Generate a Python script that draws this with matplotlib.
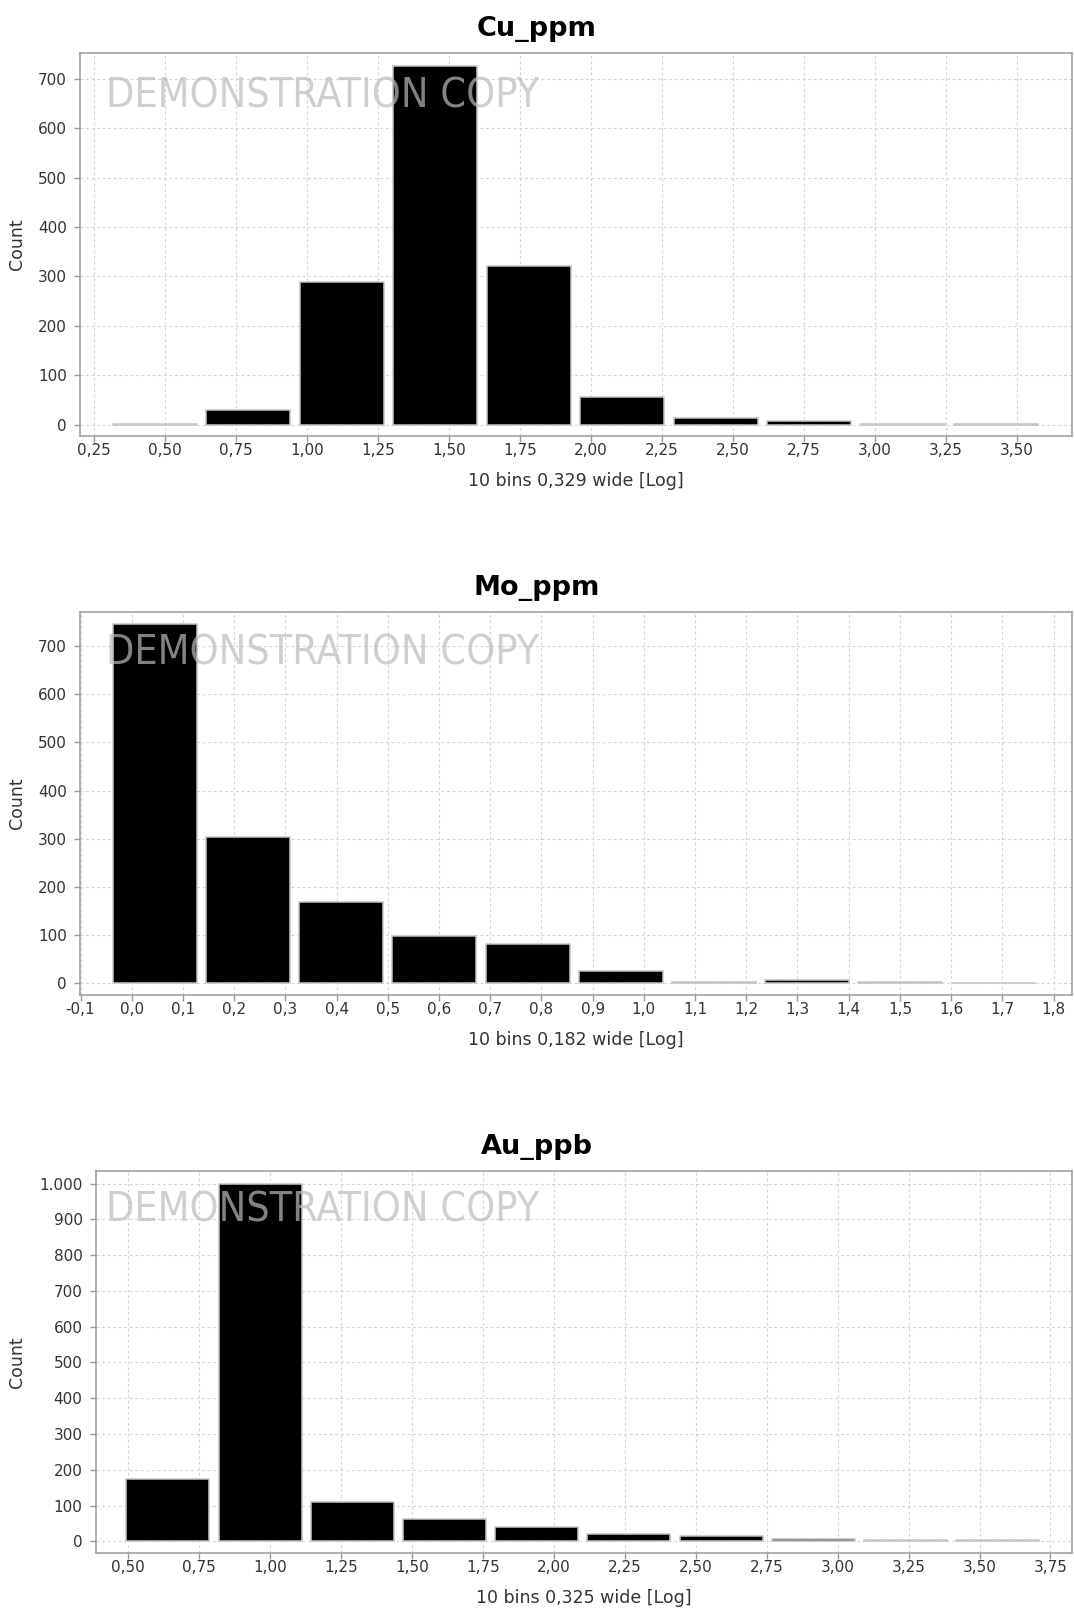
import numpy as np
import matplotlib
matplotlib.use("Agg")
import matplotlib.pyplot as plt
from matplotlib.ticker import FixedLocator, FuncFormatter

# Histogram data (log10 of assay values), 10 bins each
cu_title = "Cu_ppm"
cu_start, cu_width = 0.301, 0.329
cu_counts = [1, 30, 288, 726, 321, 57, 13, 7, 2, 1]
cu_xticks = [0.25, 0.50, 0.75, 1.00, 1.25, 1.50, 1.75, 2.00, 2.25, 2.50, 2.75, 3.00, 3.25, 3.50]

mo_title = "Mo_ppm"
mo_start, mo_width = -0.046, 0.182
mo_counts = [745, 304, 169, 99, 82, 26, 2, 7, 3, 1]
mo_xticks = [-0.1, 0.0, 0.1, 0.2, 0.3, 0.4, 0.5, 0.6, 0.7, 0.8, 0.9, 1.0, 1.1, 1.2, 1.3, 1.4, 1.5, 1.6, 1.7, 1.8]

au_title = "Au_ppb"
au_start, au_width = 0.477, 0.325
au_counts = [175, 998, 110, 64, 40, 20, 16, 7, 3, 3]
au_xticks = [0.50, 0.75, 1.00, 1.25, 1.50, 1.75, 2.00, 2.25, 2.50, 2.75, 3.00, 3.25, 3.50, 3.75]

W, H = 1074, 1612
fig = plt.figure(figsize=(W / 100, H / 100), dpi=100)
fig.patch.set_facecolor("white")


def fmt_num(decimals):
    def f(v, pos):
        s = f"{v:,.{decimals}f}"
        return s.replace(",", "X").replace(".", ",").replace("X", ".")
    return FuncFormatter(f)


def panel(box, title, start, width, counts, xticks, xdec, xlim, ylim, yticks, wm_baseline):
    left, top, right, bottom = box
    ax = fig.add_axes([left / W, 1 - bottom / H, (right - left) / W, (bottom - top) / H])
    n = len(counts)
    centers = start + width * (np.arange(n) + 0.5)
    ax.bar(centers, counts, width=width * 0.9, color="black",
           edgecolor="#c4c4c4", linewidth=1.1, zorder=3)
    ax.set_xlim(*xlim)
    ax.set_ylim(*ylim)
    ax.xaxis.set_major_locator(FixedLocator(xticks))
    ax.yaxis.set_major_locator(FixedLocator(yticks))
    ax.xaxis.set_major_formatter(fmt_num(xdec))
    ax.yaxis.set_major_formatter(fmt_num(0))
    ax.grid(True, color="#d4d4d4", linestyle=(0, (2.5, 2.5)), linewidth=0.8, zorder=0)
    ax.set_axisbelow(True)
    for s in ax.spines.values():
        s.set_color("#9a9a9a")
        s.set_linewidth(1.1)
    ax.tick_params(axis="both", direction="out", length=4, width=1, color="#9a9a9a",
                   labelsize=11, labelcolor="#333333")
    ax.tick_params(axis="x", pad=1)
    ax.tick_params(axis="y", pad=5.5)
    # chart title is centred on the whole figure width
    ax.set_title(title, fontsize=19.5, fontweight="bold", pad=12.2, color="black",
                 x=(W / 2 - left) / (right - left))
    ax.set_ylabel("Count", fontsize=12.5, color="#333333")
    ax.set_xlabel(f"10 bins {width:.3f}".replace(".", ",") + " wide [Log]",
                  fontsize=12.5, color="#333333", labelpad=10)
    ax.yaxis.set_label_coords(-(left - 26) / (right - left), 0.5)
    fig.text(106 / W, 1 - wm_baseline / H, "DEMONSTRATION COPY", fontsize=29.5,
             fontstretch="condensed", color="#bbbbbb", alpha=0.7,
             va="baseline", ha="left", zorder=10)
    return ax


panel((80, 53.3, 1072, 435.7), cu_title, cu_start, cu_width, cu_counts, cu_xticks, 2,
      (0.2018, 3.6935), (-22.3, 751.3), range(0, 701, 100), 107)
panel((80, 612.3, 1072, 995), mo_title, mo_start, mo_width, mo_counts, mo_xticks, 1,
      (-0.101, 1.836), (-24.2, 769.8), range(0, 701, 100), 665)
panel((95.7, 1171, 1072, 1552.7), au_title, au_start, au_width, au_counts, au_xticks, 2,
      (0.385, 3.826), (-31.5, 1035), range(0, 1001, 100), 1222)

fig.savefig("out.png", dpi=100, facecolor="white")
